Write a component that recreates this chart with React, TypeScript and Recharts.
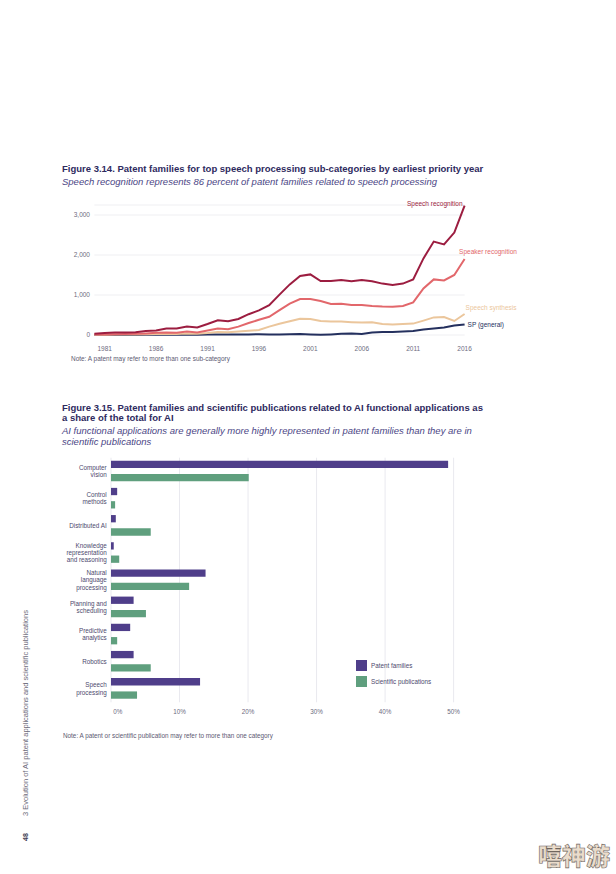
import React from "react";
import { LineChart, Line, XAxis, YAxis, CartesianGrid, BarChart, Bar } from "recharts";

const font = "'Liberation Sans', Arial, sans-serif";

// Figure 3.14 – patent families by earliest priority year
const years = [
	1980, 1981, 1982, 1983, 1984, 1985, 1986, 1987, 1988, 1989, 1990, 1991, 1992,
	1993, 1994, 1995, 1996, 1997, 1998, 1999, 2000, 2001, 2002, 2003, 2004, 2005,
	2006, 2007, 2008, 2009, 2010, 2011, 2012, 2013, 2014, 2015, 2016,
];
const speechRecognition = [
	30, 50, 60, 65, 70, 100, 110, 160, 160, 210, 190, 275, 370, 345, 400, 520, 615,
	745, 1010, 1265, 1475, 1515, 1350, 1350, 1375, 1345, 1375, 1345, 1285, 1250,
	1285, 1390, 1915, 2335, 2265, 2560, 3235,
];
const speakerRecognition = [
	10, 15, 20, 25, 30, 40, 55, 65, 55, 85, 65, 110, 160, 145, 210, 300, 380, 455,
	620, 785, 900, 900, 850, 775, 780, 750, 750, 725, 710, 705, 725, 815, 1165,
	1390, 1365, 1500, 1900,
];
const speechSynthesis = [
	5, 8, 10, 12, 15, 18, 22, 30, 28, 38, 32, 50, 75, 70, 90, 105, 125, 210, 280,
	345, 405, 400, 350, 335, 335, 320, 310, 320, 275, 265, 275, 285, 360, 440, 450,
	350, 525,
];
const spGeneral = [
	2, 2, 3, 3, 3, 4, 5, 5, 6, 7, 8, 10, 12, 12, 14, 15, 18, 15, 10, 20, 25, 15, 5,
	15, 30, 40, 25, 65, 75, 75, 85, 100, 140, 160, 185, 235, 265,
];
const yearTicks = [1981, 1986, 1991, 1996, 2001, 2006, 2011, 2016];
const countTicks = [0, 1000, 2000, 3000];

// Figure 3.15 – share of AI total (%)
const categories = [
	"Computer\nvision",
	"Control\nmethods",
	"Distributed AI",
	"Knowledge\nrepresentation\nand reasoning",
	"Natural\nlanguage\nprocessing",
	"Planning and\nscheduling",
	"Predictive\nanalytics",
	"Robotics",
	"Speech\nprocessing",
];
const patentShare = [49.2, 0.9, 0.7, 0.4, 13.8, 3.3, 2.8, 3.3, 13.0];
const publicationShare = [20.1, 0.6, 5.8, 1.2, 11.4, 5.1, 0.9, 5.8, 3.8];
const shareTicks = [0, 10, 20, 30, 40, 50];

const lineData = years.map((year, i) => ({
	year,
	speech: speechRecognition[i],
	speaker: speakerRecognition[i],
	synthesis: speechSynthesis[i],
	general: spGeneral[i],
}));

const barData = categories.map((name, i) => ({
	name,
	patents: patentShare[i],
	publications: publicationShare[i],
}));

const colors = {
	speech: "#9c1d40",
	speaker: "#e2676b",
	synthesis: "#ebc69c",
	general: "#24305e",
	patents: "#4f3e8a",
	publications: "#5f9f7e",
	title: "#2e2a5e",
	subtitle: "#4b4685",
	tick: "#6d6b80",
};

const endLabel =
	(text: string, color: string, dx: number, dy: number, anchor: "start" | "end") =>
	(props: any) => {
		const { x, y, index } = props;
		if (index !== years.length - 1) return null;
		return (
			<text
				x={x + dx}
				y={y + dy}
				dy="0.35em"
				textAnchor={anchor}
				fill={color}
				fontSize={6.5}
				fontFamily={font}
			>
				{text}
			</text>
		);
	};

function CategoryTick({ x, y, payload }: any) {
	const lines = String(payload.value).split("\n");
	const lh = 7.3;
	const start = y - ((lines.length - 1) * lh) / 2;
	return (
		<text x={x} y={start} textAnchor="end" fill="#4d4a6e" fontSize={6.3} fontFamily={font}>
			{lines.map((l, i) => (
				<tspan key={i} x={x} y={start + i * lh} dy="0.35em">
					{l}
				</tspan>
			))}
		</text>
	);
}

function ShareTick({ x, y, payload }: any) {
	const first = payload.value === 0;
	return (
		<text
			x={first ? x + 2.3 : x}
			y={y}
			dy="0.71em"
			textAnchor={first ? "start" : "middle"}
			fill={colors.tick}
			fontSize={6.3}
			fontFamily={font}
		>
			{payload.value}%
		</text>
	);
}

const abs = (left: number, top: number): React.CSSProperties => ({
	position: "absolute",
	left,
	top,
	whiteSpace: "nowrap",
	fontFamily: font,
});

export default function App() {
	return (
		<div
			style={{
				position: "absolute",
				left: 0,
				top: 0,
				width: 616,
				height: 874,
				background: "#fff",
				overflow: "hidden",
				fontFamily: font,
			}}
		>
			{/* Figure 3.14 */}
			<div style={{ ...abs(62, 163.2), fontSize: 9.5, lineHeight: "11.5px", fontWeight: 700, color: colors.title }}>
				Figure 3.14. Patent families for top speech processing sub-categories by earliest priority year
			</div>
			<div style={{ ...abs(62, 176.2), fontSize: 9.5, lineHeight: "11.5px", fontStyle: "italic", color: colors.subtitle }}>
				Speech recognition represents 86 percent of patent families related to speech processing
			</div>

			<div style={{ position: "absolute", left: 40, top: 190 }}>
				<LineChart
					width={500}
					height={175}
					data={lineData}
					margin={{ top: 15, right: 75.4, bottom: 5, left: 14.4 }}
				>
					<CartesianGrid vertical={false} stroke="#efeff2" />
					<XAxis
						dataKey="year"
						type="number"
						domain={[1980, 2016]}
						ticks={yearTicks}
						axisLine={false}
						tickLine={false}
						tickSize={0}
						tickMargin={11}
						height={25}
						tick={{ fontSize: 6.5, fill: colors.tick, fontFamily: font }}
					/>
					<YAxis
						type="number"
						domain={[0, 3250]}
						ticks={countTicks}
						width={40}
						axisLine={false}
						tickLine={false}
						tickSize={0}
						tickMargin={4.4}
						tickFormatter={(v: number) => v.toLocaleString("en-US")}
						tick={{ fontSize: 6.5, fill: colors.tick, fontFamily: font }}
					/>
					<Line
						dataKey="general"
						stroke={colors.general}
						strokeWidth={2}
						dot={false}
						isAnimationActive={false}
						label={endLabel("SP (general)", colors.general, 3, 0, "start")}
					/>
					<Line
						dataKey="synthesis"
						stroke={colors.synthesis}
						strokeWidth={2}
						dot={false}
						isAnimationActive={false}
						label={endLabel("Speech synthesis", colors.synthesis, 1, -6.3, "start")}
					/>
					<Line
						dataKey="speaker"
						stroke={colors.speaker}
						strokeWidth={2}
						dot={false}
						isAnimationActive={false}
						label={endLabel("Speaker recognition", colors.speaker, -5.5, -7, "start")}
					/>
					<Line
						dataKey="speech"
						stroke={colors.speech}
						strokeWidth={2}
						dot={false}
						isAnimationActive={false}
						label={endLabel("Speech recognition", colors.speech, -2, -1.7, "end")}
					/>
				</LineChart>
			</div>

			<div style={{ ...abs(71, 355.3), fontSize: 6.45, lineHeight: "8px", color: "#5c5a72" }}>
				Note: A patent may refer to more than one sub-category
			</div>

			{/* Figure 3.15 */}
			<div style={{ ...abs(62, 402.5), fontSize: 9.5, lineHeight: "10.3px", fontWeight: 700, color: colors.title }}>
				Figure 3.15. Patent families and scientific publications related to AI functional applications as
				<br />a share of the total for AI
			</div>
			<div style={{ ...abs(62, 426.3), fontSize: 9.5, lineHeight: "10.7px", fontStyle: "italic", color: colors.subtitle }}>
				AI functional applications are generally more highly represented in patent families than they are in
				<br />
				scientific publications
			</div>

			<div style={{ position: "absolute", left: 40, top: 445 }}>
				<BarChart
					width={460}
					height={285}
					layout="vertical"
					data={barData}
					margin={{ top: 12.7, right: 46.4, bottom: 7.7, left: 0 }}
					barSize={7.3}
					barGap={6}
				>
					<CartesianGrid horizontal={false} stroke="#e9e9ef" />
					<XAxis
						type="number"
						domain={[0, 50]}
						ticks={shareTicks}
						axisLine={false}
						tickLine={false}
						tickSize={0}
						tickMargin={7}
						height={20}
						tick={<ShareTick />}
					/>
					<YAxis
						type="category"
						dataKey="name"
						width={71}
						interval={0}
						axisLine={false}
						tickLine={false}
						tickSize={0}
						tickMargin={4.3}
						tick={<CategoryTick />}
					/>
					<Bar dataKey="patents" fill={colors.patents} isAnimationActive={false} />
					<Bar dataKey="publications" fill={colors.publications} isAnimationActive={false} />
				</BarChart>
			</div>

			{/* legend */}
			<div style={{ position: "absolute", left: 356, top: 660, width: 11, height: 11, background: colors.patents }} />
			<div style={{ ...abs(371, 661.5), fontSize: 6.3, lineHeight: "8px", color: "#4d4a6e" }}>Patent families</div>
			<div style={{ position: "absolute", left: 356, top: 676, width: 11, height: 11, background: colors.publications }} />
			<div style={{ ...abs(371, 677.5), fontSize: 6.3, lineHeight: "8px", color: "#4d4a6e" }}>Scientific publications</div>

			<div style={{ ...abs(63, 732), fontSize: 6.35, lineHeight: "8px", color: "#5c5a72" }}>
				Note: A patent or scientific publication may refer to more than one category
			</div>

			{/* page margin text */}
			<div
				style={{
					...abs(20.5, 816),
					fontSize: 7.5,
					lineHeight: "9px",
					color: "#6d6b7a",
					transform: "rotate(-90deg)",
					transformOrigin: "0 0",
				}}
			>
				3 Evolution of AI patent applications and scientific publications
			</div>
			<div
				style={{
					...abs(20.5, 841),
					fontSize: 7,
					lineHeight: "9px",
					fontWeight: 700,
					color: "#3e3c52",
					transform: "rotate(-90deg)",
					transformOrigin: "0 0",
				}}
			>
				48
			</div>

			<div
				style={{
					...abs(538, 840),
					fontSize: 24,
					lineHeight: "30px",
					fontWeight: 900,
					fontFamily: "'Noto Sans CJK SC', sans-serif",
					color: "#eadccb",
					WebkitTextStroke: "0.6px #6f665e",
				}}
			>
				嘻神游
			</div>
		</div>
	);
}
